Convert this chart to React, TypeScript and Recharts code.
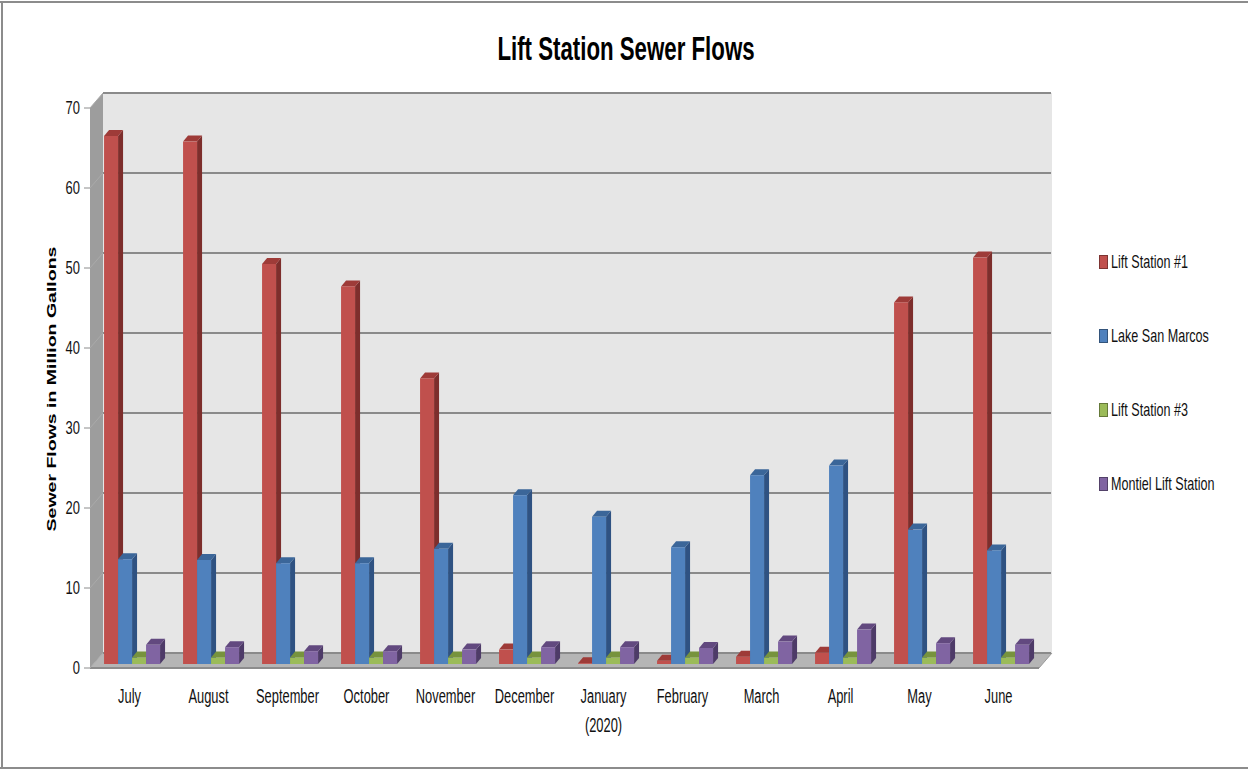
import React from 'react';
import { BarChart, Bar, XAxis, YAxis, CartesianGrid, Legend } from 'recharts';

const months = [
  'July',
  'August',
  'September',
  'October',
  'November',
  'December',
  'January\n(2020)',
  'February',
  'March',
  'April',
  'May',
  'June',
];

const liftStation1 = [66, 65.3, 50, 47.2, 35.7, 1.8, 0.1, 0.4, 0.9, 1.4, 45.2, 50.8];
const lakeSanMarcos = [13.1, 13, 12.6, 12.6, 14.4, 21.1, 18.4, 14.6, 23.6, 24.8, 16.8, 14.2];
const liftStation3 = [0.8, 0.8, 0.8, 0.8, 0.8, 0.8, 0.8, 0.8, 0.8, 0.8, 0.8, 0.8];
const montiel = [2.4, 2.1, 1.6, 1.6, 1.8, 2.1, 2.1, 2.0, 2.8, 4.3, 2.6, 2.4];

const yTicks = [0, 10, 20, 30, 40, 50, 60, 70];

const data = months.map((month, i) => ({
  month,
  ls1: liftStation1[i],
  lsm: lakeSanMarcos[i],
  ls3: liftStation3[i],
  mont: montiel[i],
}));

// front plane of the plot, walls sit DEPTH behind it
const W = 1248;
const H = 770;
const PLOT = { left: 90, right: 1038, top: 108, bottom: 668 };
const DEPTH_X = 13;
const DEPTH_Y = 15;

// bars stand a little behind the front edge of the floor
const BAR_SHIFT_X = 3;
const BAR_SHIFT_Y = 4;
const BAR_DX = 5;
const BAR_DY = 6;

const FONT = "'Liberation Sans', Arial, sans-serif";
const SQUEEZE = 0.66;

const series = [
  { key: 'ls1', name: 'Lift Station #1', front: '#C0504D', top: '#9E3B38', side: '#7D2E2C' },
  { key: 'lsm', name: 'Lake San Marcos', front: '#4F81BD', top: '#3B6699', side: '#2F5282' },
  { key: 'ls3', name: 'Lift Station #3', front: '#9BBB59', top: '#77933D', side: '#627A32' },
  { key: 'mont', name: 'Montiel Lift Station', front: '#8064A2', top: '#62497F', side: '#4E3B68' },
];
const seriesOrder = series.map((s) => s.name);

function makeBox(front: string, top: string, side: string) {
  return (props: any) => {
    const { x, y, width, height } = props;
    if (x == null || y == null) return null;
    const x0 = x + BAR_SHIFT_X;
    const y0 = y - BAR_SHIFT_Y;
    const w = width;
    const h = Math.max(height, 0);
    const topPts = `${x0},${y0} ${x0 + BAR_DX},${y0 - BAR_DY} ${x0 + w + BAR_DX},${y0 - BAR_DY} ${x0 + w},${y0}`;
    const sidePts = `${x0 + w},${y0} ${x0 + w + BAR_DX},${y0 - BAR_DY} ${x0 + w + BAR_DX},${y0 + h - BAR_DY} ${x0 + w},${y0 + h}`;
    return (
      <g>
        <polygon points={sidePts} fill={side} />
        <polygon points={topPts} fill={top} />
        <rect x={x0} y={y0} width={w} height={h} fill={front} />
      </g>
    );
  };
}

function MonthTick(props: any) {
  const { x, y, payload } = props;
  const lines = String(payload.value).split('\n');
  return (
    <g>
      {lines.map((line, i) => (
        <text
          key={i}
          transform={`translate(${x},${y + 35 + i * 29}) scale(${SQUEEZE},1)`}
          textAnchor="middle"
          fontFamily={FONT}
          fontSize={19.5}
          fill="#111"
        >
          {line}
        </text>
      ))}
    </g>
  );
}

function ValueTick(props: any) {
  const { x, y, payload } = props;
  return (
    <text
      transform={`translate(${x - 2},${y + 6}) scale(0.72,1)`}
      textAnchor="end"
      fontFamily={FONT}
      fontSize={18}
      fill="#111"
    >
      {payload.value}
    </text>
  );
}

// back wall gridline plus its slanted trace across the side wall
function GridLine(props: any) {
  const { x1, y1, x2 } = props;
  return (
    <g key={props.key}>
      <line x1={x1} y1={y1} x2={x1 + DEPTH_X} y2={y1 - DEPTH_Y} stroke="#aaaaaa" strokeWidth={1} />
      <line
        x1={x1 + DEPTH_X}
        y1={y1 - DEPTH_Y}
        x2={x2 + DEPTH_X}
        y2={y1 - DEPTH_Y}
        stroke="#8a8a8a"
        strokeWidth={2}
      />
    </g>
  );
}

function renderLegend(props: any) {
  const items = [...(props.payload || [])].sort(
    (a: any, b: any) => seriesOrder.indexOf(a.value) - seriesOrder.indexOf(b.value),
  );
  return (
    <div>
      {items.map((entry: any) => (
        <div
          key={entry.value}
          style={{ height: 74, display: 'flex', alignItems: 'center', whiteSpace: 'nowrap' }}
        >
          <span
            style={{
              display: 'inline-block',
              flexShrink: 0,
              width: 7,
              height: 12,
              background: entry.color,
              border: '1px solid rgba(0,0,0,0.35)',
              marginRight: 3,
            }}
          />
          <span
            style={{
              display: 'inline-block',
              flexShrink: 0,
              fontFamily: FONT,
              fontSize: 18.5,
              color: '#111',
              whiteSpace: 'nowrap',
              transform: `scaleX(0.68)`,
              transformOrigin: 'left center',
            }}
          >
            {entry.value}
          </span>
        </div>
      ))}
    </div>
  );
}

function Walls() {
  const bl = PLOT.left + DEPTH_X;
  const bt = PLOT.top - DEPTH_Y;
  const bb = PLOT.bottom - DEPTH_Y;
  const br = PLOT.right + DEPTH_X + 1;
  return (
    <svg width={W} height={H} style={{ position: 'absolute', left: 0, top: 0 }}>
      <rect x={0} y={0} width={W} height={H} fill="#ffffff" />
      <line x1={0} y1={2} x2={W} y2={2} stroke="#8c8c8c" strokeWidth={2} />
      <line x1={2} y1={2} x2={2} y2={768} stroke="#8c8c8c" strokeWidth={2} />
      <line x1={0} y1={768} x2={W} y2={768} stroke="#8c8c8c" strokeWidth={2} />

      <text
        transform={`translate(626,60) scale(0.655,1)`}
        textAnchor="middle"
        fontFamily={FONT}
        fontWeight="bold"
        fontSize={34}
        fill="#000"
      >
        Lift Station Sewer Flows
      </text>
      <text
        transform={`translate(56,389) scale(${SQUEEZE},1) rotate(-90)`}
        textAnchor="middle"
        fontFamily={FONT}
        fontWeight="bold"
        fontSize={19.5}
        fill="#000"
      >
        Sewer Flows in Million Gallons
      </text>

      {/* back wall */}
      <rect x={bl} y={bt} width={br - bl} height={bb - bt} fill="#e6e6e6" />
      {/* side wall */}
      <polygon
        points={`${PLOT.left},${PLOT.top} ${bl},${bt} ${bl},${bb} ${PLOT.left},${PLOT.bottom}`}
        fill="#9d9d9d"
      />
      {/* floor */}
      <polygon
        points={`${PLOT.left},${PLOT.bottom} ${bl},${bb} ${br},${bb} ${PLOT.right + 1},${PLOT.bottom}`}
        fill="#b5b5b5"
      />
      <line
        x1={PLOT.left}
        y1={PLOT.bottom}
        x2={PLOT.right + 1}
        y2={PLOT.bottom}
        stroke="#8c8c8c"
        strokeWidth={2}
      />
      <line x1={PLOT.right + 1} y1={PLOT.bottom} x2={br} y2={bb} stroke="#9a9a9a" strokeWidth={1} />
    </svg>
  );
}

export default function App() {
  return (
    <div style={{ position: 'absolute', left: 0, top: 0, width: W, height: H, background: '#fff' }}>
      <Walls />
      <div style={{ position: 'absolute', left: 0, top: 0 }}>
        <BarChart
          width={W}
          height={H}
          data={data}
          margin={{ top: PLOT.top, right: W - PLOT.right, bottom: 42, left: 30 }}
          barGap={0}
          barCategoryGap="14%"
        >
          <CartesianGrid vertical={false} horizontal={GridLine} />
          <XAxis
            dataKey="month"
            height={60}
            tickLine={false}
            axisLine={false}
            tickSize={0}
            tickMargin={0}
            interval={0}
            tick={MonthTick}
          />
          <YAxis
            width={60}
            domain={[0, 70]}
            ticks={yTicks}
            axisLine={false}
            tickLine={{ stroke: '#8c8c8c' }}
            tickSize={6}
            tickMargin={2}
            tick={ValueTick}
          />
          <Legend
            layout="horizontal"
            align="center"
            verticalAlign="middle"
            content={renderLegend}
            wrapperStyle={{ left: 1099, top: 225, width: 148 }}
          />
          {series.map((s) => (
            <Bar
              key={s.key}
              dataKey={s.key}
              name={s.name}
              fill={s.front}
              isAnimationActive={false}
              shape={makeBox(s.front, s.top, s.side)}
            />
          ))}
        </BarChart>
      </div>
    </div>
  );
}
